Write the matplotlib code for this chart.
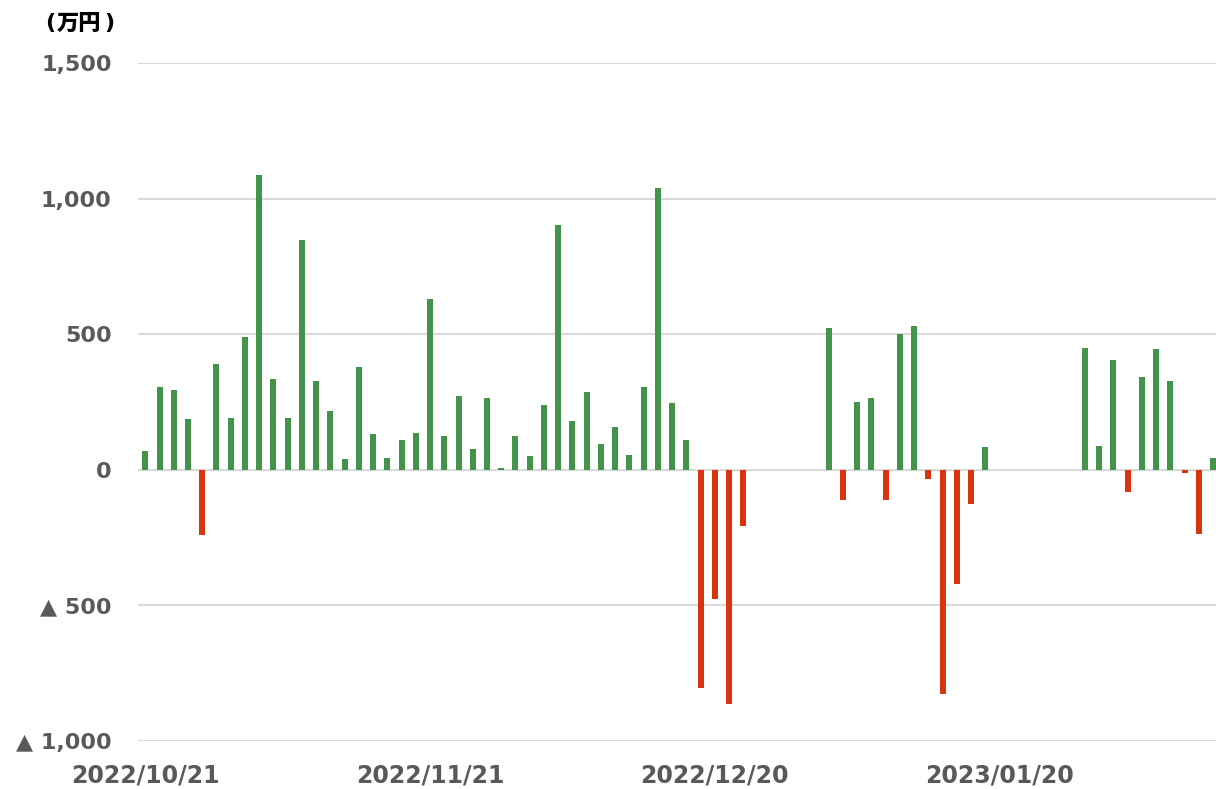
import matplotlib
matplotlib.use("Agg")
import matplotlib.pyplot as plt
import matplotlib.ticker as ticker
import numpy as np
import pandas as pd

# 取引日（東証の休日を除く）
holidays = ["2022-11-03", "2022-11-23", "2023-01-02", "2023-01-03", "2023-01-09"]
dates = pd.bdate_range("2022-10-21", "2023-02-10", freq="C", holidays=holidays)

# 日次損益（万円）
pnl = [70, 305, 296, 187, -240, 389, 191, 490, 1086, 336,
       191, 846, 329, 217, 39, 379, 132, 44, 111, 135,
       628, 126, 273, 78, 266, 6, 126, 50, 239, 901,
       180, 288, 95, 159, 55, 307, 1038, 246, 110, -806,
       -476, -864, -206, 0, 0, 0, 0, 0, 522, -112,
       251, 263, -112, 502, 532, -34, -825, -422, -127, 84,
       0, 0, 0, 0, 0, 0, 450, 87, 406, -81,
       342, 444, 328, -11, -236, 45]

label_every = 20
y_ticks = [-1000, -500, 0, 500, 1000, 1500]
unit = "万円"

green = "#43934a"
red = "#d9340e"
label_grey = "#595959"

fig = plt.figure(figsize=(12.16, 7.89), dpi=100)
ax = fig.add_axes([0.1135, 0.0608, 0.8865, 0.8594])

x = np.arange(len(pnl))
vals = np.array(pnl)
colors = [green if v >= 0 else red for v in vals]
ax.bar(x, vals, width=0.42, color=colors, zorder=3)

ax.set_ylim(-1000, 1500)
ax.set_xlim(-0.51, 75.2)
ax.set_yticks(y_ticks)
ax.yaxis.set_major_formatter(ticker.FuncFormatter(
    lambda v, p: f"{v:,.0f}" if v >= 0 else f"▲ {abs(v):,.0f}"))
ax.grid(axis="y", color="#d9d9d9", linewidth=1.5, zorder=0)

ticks = x[::label_every]
ax.set_xticks(ticks)
ax.set_xticklabels([dates[i].strftime("%Y/%m/%d") for i in ticks])

for s in ax.spines.values():
    s.set_visible(False)
ax.tick_params(axis="both", length=0, labelcolor=label_grey)
ax.tick_params(axis="y", pad=19, labelsize=16)
ax.tick_params(axis="x", pad=16, labelsize=17)
for lab in ax.get_xticklabels() + ax.get_yticklabels():
    lab.set_fontweight("bold")

# 単位ラベル（括弧は幅を合わせるため別に描く）
ty = 0.9705
fig.text(50.5 / 1216, ty, "(", fontsize=16, fontweight="bold",
         ha="center", va="center", color="black")
fig.text(79.5 / 1216, ty, unit, fontsize=16, fontweight="heavy",
         family=["Noto Sans CJK JP", "DejaVu Sans"], ha="center", va="center", color="black")
fig.text(109 / 1216, ty, ")", fontsize=16, fontweight="bold",
         ha="center", va="center", color="black")

fig.savefig("out.png", dpi=100)
